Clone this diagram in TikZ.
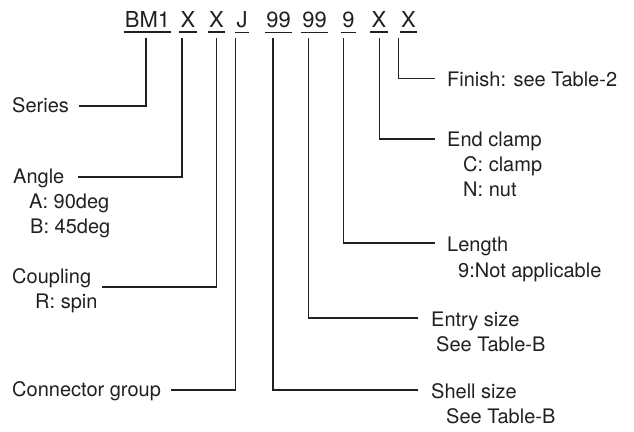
\documentclass[tikz,border=0pt]{standalone}
\usepackage{fontspec}
\setmainfont{TeX Gyre Heros}
\definecolor{ink}{RGB}{35,31,32}
\begin{document}
\begin{tikzpicture}[x=1pt,y=-1pt,
  lbl/.style={anchor=base west, inner sep=0pt, font=\fontsize{20}{24}\selectfont, text=ink},
  code/.style={anchor=base, inner xsep=1pt, inner ysep=0pt, font=\fontsize{22}{26}\selectfont, text=ink},
  leader/.style={draw=ink, line width=1.2pt},
  uline/.style={draw=ink, line width=1.6pt}]
\useasboundingbox (0,0) rectangle (634,431);

% code row
\node[code] (c1) at (147.5,27.3) {BM1};
\node[code] (c2) at (188,27.3) {X};
\node[code] (c3) at (216.5,27.3) {X};
\node[code] (c4) at (242,27.3) {J};
\node[code] (c5) at (278.5,27.3) {99};
\node[code] (c6) at (314.5,27.3) {99};
\node[code] (c7) at (348.5,27.3) {9};
\node[code] (c8) at (379,27.3) {X};
\node[code] (c9) at (408.5,27.3) {X};
\foreach \n in {c1,c2,c3,c4,c5,c6,c7,c8,c9}
  \draw[uline] ([yshift=-4.5pt]\n.south west) -- ([yshift=-4.5pt]\n.south east);

% leader tops
\coordinate (v1) at (146,38);
\coordinate (v2) at (182,38);
\coordinate (v3) at (216.5,38);
\coordinate (v4) at (235.5,38);
\coordinate (v5) at (273,38);
\coordinate (v6) at (308.5,38);
\coordinate (v7) at (343.5,38);
\coordinate (v8) at (379.5,38);
\coordinate (v9) at (398.5,38);
% leader ends
\coordinate (e1) at (79,106);
\coordinate (e2) at (78,177);
\coordinate (e3) at (102,287);
\coordinate (e4) at (171,390);
\coordinate (e5) at (418,390);
\coordinate (e6) at (418,318);
\coordinate (e7) at (435,243);
\coordinate (e8) at (435,139);
\coordinate (e9) at (435,78.5);

\foreach \i in {1,...,9}
  \draw[leader] (v\i) |- (e\i);

% left labels
\node[lbl] (series) at (12,112) {Series};
\node[lbl] (angle) at (13,183) {Angle};
\node[lbl] (angleA) at (29,208) {A: 90deg};
\node[lbl] (angleB) at (30,233) {B: 45deg};
\node[lbl] (coupling) at (12,283) {Coupling};
\node[lbl] (couplingR) at (35,308) {R: spin};
\node[lbl] (group) at (12,396) {Connector group};

% right labels
\node[lbl] (finish) at (447,86.5) {Finish: see Table-2};
\node[lbl] (clamp) at (447,146.5) {End clamp};
\node[lbl] (clampC) at (463,171.5) {C: clamp};
\node[lbl] (clampN) at (463,196.5) {N: nut};
\node[lbl] (length) at (447,251) {Length};
\node[lbl] (length9) at (458,277) {9:Not applicable};
\node[lbl] (entry) at (431,326) {Entry size};
\node[lbl] (entryT) at (436,351) {See Table-B};
\node[lbl] (shell) at (431,398) {Shell size};
\node[lbl] (shellT) at (446,423.5) {See Table-B};
\end{tikzpicture}
\end{document}
